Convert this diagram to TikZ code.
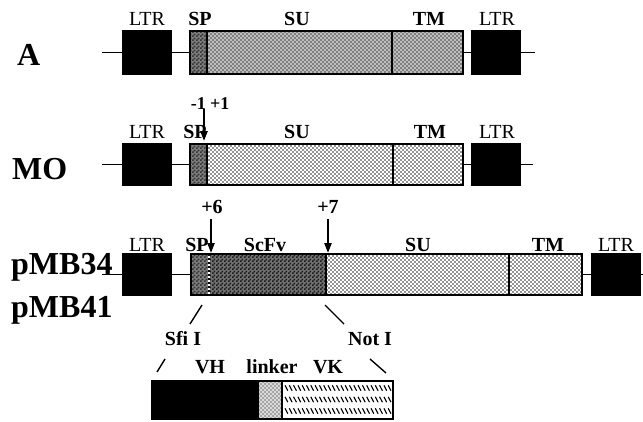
\documentclass[tikz,border=0pt]{standalone}
\usepackage{fontspec}
\setmainfont{Liberation Serif}
\usetikzlibrary{patterns,arrows.meta}
\pgfdeclarepatternformonly{stip}{\pgfqpoint{-0.1pt}{-0.1pt}}{\pgfqpoint{4.1pt}{4.1pt}}{\pgfqpoint{4pt}{4pt}}{%
  \pgfpathcircle{\pgfqpoint{1pt}{1pt}}{0.85pt}%
  \pgfpathcircle{\pgfqpoint{3pt}{3pt}}{0.85pt}%
  \pgfusepath{fill}}
\pgfdeclarepatternformonly{checker}{\pgfqpoint{0pt}{0pt}}{\pgfqpoint{4pt}{4pt}}{\pgfqpoint{4pt}{4pt}}{%
  \pgfpathrectangle{\pgfqpoint{0pt}{0pt}}{\pgfqpoint{2pt}{2pt}}%
  \pgfpathrectangle{\pgfqpoint{2pt}{2pt}}{\pgfqpoint{2pt}{2pt}}%
  \pgfusepath{fill}}
\begin{document}
\begin{tikzpicture}[x=1pt,y=-1pt,
  seg/.style={draw=black, line width=1.1pt, inner sep=0pt, outer sep=0pt, anchor=north west},
  ltrbox/.style={seg, fill=black},
  grayA/.style={preaction={fill=black!25}, pattern=stip, pattern color=black!75},
  spA/.style={preaction={fill=black!50}, pattern=checker, pattern color=black!80},
  stipple/.style={preaction={fill=white}, pattern=stip, pattern color=black!85},
  scfv/.style={preaction={fill=black!55}, pattern=checker, pattern color=black!90},
  linkfill/.style={preaction={fill=black!15}, pattern=stip, pattern color=black!55},
  wire/.style={line width=1.1pt},
  tip/.style={line width=2.2pt, -{Triangle[length=10pt,width=7pt]}},
  cut/.style={line width=1.4pt},
  lab/.style={font=\fontsize{20}{20}\selectfont\bfseries, anchor=base, inner sep=0pt},
  rlab/.style={font=\fontsize{20}{20}\selectfont, anchor=base, inner sep=0pt},
  big/.style={font=\fontsize{32}{32}\selectfont\bfseries, anchor=base west, inner sep=0pt}
]
\useasboundingbox (0,0) rectangle (643,421);

% ---------- Row A ----------
\node[big] (nA) at (17,65) {A};
\node[ltrbox, minimum width=48pt, minimum height=43pt] (aL) at (123,31) {};
\node[seg, spA, minimum width=17pt, minimum height=43pt] (aSP) at (190,31) {};
\node[seg, grayA, minimum width=185pt, minimum height=43pt] (aSU) at (207,31) {};
\node[seg, grayA, minimum width=71pt, minimum height=43pt] (aTM) at (392,31) {};
\node[ltrbox, minimum width=48pt, minimum height=43pt] (aR) at (472,31) {};
\coordinate (a0) at (102,52.5);
\coordinate (a1) at (535,52.5);
\draw[wire] (a0) -- (aL.west);
\draw[wire] (aL.east) -- (aSP.west);
\draw[wire] (aTM.east) -- (aR.west);
\draw[wire] (aR.east) -- (a1);
\node[rlab] (aLTR1) at (147,25) {LTR};
\node[lab] (aSPt) at (200,25) {SP};
\node[lab] (aSUt) at (297,25) {SU};
\node[lab] (aTMt) at (429,25) {TM};
\node[rlab] (aLTR2) at (497,25) {LTR};

% ---------- Row MO ----------
\node[big] (nMO) at (12,179) {MO};
\node[ltrbox, minimum width=48pt, minimum height=41pt] (mL) at (123,144) {};
\node[seg, spA, minimum width=17pt, minimum height=41pt] (mSP) at (190,144) {};
\node[seg, stipple, minimum width=186pt, minimum height=41pt] (mSU) at (207,144) {};
\node[seg, stipple, minimum width=70pt, minimum height=41pt] (mTM) at (393,144) {};
\node[ltrbox, minimum width=48pt, minimum height=41pt] (mR) at (472,144) {};
\coordinate (m0) at (102,164.5);
\coordinate (m1) at (533,164.5);
\draw[wire] (m0) -- (mL.west);
\draw[wire] (mL.east) -- (mSP.west);
\draw[wire] (mTM.east) -- (mR.west);
\draw[wire] (mR.east) -- (m1);
\node[rlab] (mLTR1) at (147,138) {LTR};
\node[lab] (mSPt) at (195,138) {SP};
\node[lab] (mSUt) at (297,138) {SU};
\node[lab] (mTMt) at (430,138) {TM};
\node[rlab] (mLTR2) at (497,138) {LTR};
\node[font=\fontsize{18}{18}\selectfont\bfseries, anchor=base east, inner sep=0pt] (mm1) at (206,109) {-1};
\node[font=\fontsize{18}{18}\selectfont\bfseries, anchor=base west, inner sep=0pt] (mp1) at (210,109) {+1};
\coordinate (mArS) at (204,109);
\coordinate (mArE) at (204,141);
\draw[tip] (mArS) -- (mArE);

% ---------- Row pMB ----------
\node[big] (nP1) at (11,274) {pMB34};
\node[big] (nP2) at (11,317) {pMB41};
\node[ltrbox, minimum width=48pt, minimum height=41pt] (pL) at (123,254) {};
\node[seg, spA, minimum width=18pt, minimum height=41pt] (pSP) at (191,254) {};
\node[seg, scfv, minimum width=117pt, minimum height=41pt] (pScFv) at (209,254) {};
\node[seg, stipple, minimum width=183pt, minimum height=41pt] (pSU) at (326,254) {};
\node[seg, stipple, minimum width=73pt, minimum height=41pt] (pTM) at (509,254) {};
\node[ltrbox, minimum width=48pt, minimum height=41pt] (pR) at (592,254) {};
\draw[white, line width=1.6pt, dash pattern=on 2.5pt off 1.5pt] ([yshift=-1.5pt]pSP.north east) -- ([yshift=1.5pt]pSP.south east);
\coordinate (p0) at (102,274.5);
\coordinate (p1) at (643,274.5);
\draw[wire] (p0) -- (pL.west);
\draw[wire] (pL.east) -- (pSP.west);
\draw[wire] (pTM.east) -- (pR.west);
\draw[wire] (pR.east) -- (p1);
\node[rlab] (pLTR1) at (147,251) {LTR};
\node[lab] (pSPt) at (197,251) {SP};
\node[lab] (pScFvt) at (265,251) {ScFv};
\node[lab] (pSUt) at (418,251) {SU};
\node[lab] (pTMt) at (548,251) {TM};
\node[rlab] (pLTR2) at (616,251) {LTR};
\node[lab] (p6) at (212,213) {+6};
\node[lab] (p7) at (328,213) {+7};
\coordinate (p6s) at (211,219);
\coordinate (p6e) at (211,253);
\coordinate (p7s) at (328,219);
\coordinate (p7e) at (328,253);
\draw[tip] (p6s) -- (p6e);
\draw[tip] (p7s) -- (p7e);

% ---------- cut sites ----------
\coordinate (s1a) at (202,305);
\coordinate (s1b) at (190,324);
\coordinate (s2a) at (165,359);
\coordinate (s2b) at (157,372);
\coordinate (n1a) at (325,305);
\coordinate (n1b) at (344,324);
\coordinate (n2a) at (370,359);
\coordinate (n2b) at (386,373);
\draw[cut] (s1a) -- (s1b);
\draw[cut] (s2a) -- (s2b);
\draw[cut] (n1a) -- (n1b);
\draw[cut] (n2a) -- (n2b);
\node[lab] (sfi) at (183,345) {Sfi I};
\node[lab] (noti) at (370,345) {Not I};

% ---------- ScFv detail ----------
\node[seg, fill=black, minimum width=106pt, minimum height=38pt] (vh) at (152,381) {};
\node[seg, linkfill, minimum width=24pt, minimum height=38pt] (lk) at (258,381) {};
\node[seg, fill=white, minimum width=111pt, minimum height=38pt] (vk) at (282,381) {};
\foreach \r in {388,399.5,411}
  \foreach \x in {285,289.3,...,389}
    \draw[line width=1.1pt] (\x,\r-2.7) -- (\x+2.8,\r+2.7);
\node[lab] (vht) at (210,373) {VH};
\node[lab] (lkt) at (272,373) {linker};
\node[lab] (vkt) at (328,373) {VK};
\end{tikzpicture}
\end{document}
